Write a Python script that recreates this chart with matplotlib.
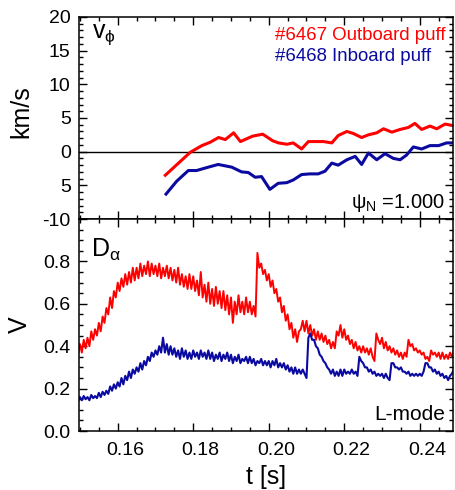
import numpy as np
import matplotlib
matplotlib.use("Agg")
import matplotlib.pyplot as plt
from matplotlib.ticker import MultipleLocator
from matplotlib.transforms import ScaledTranslation

plt.rcParams['font.family'] = ['Liberation Sans', 'DejaVu Sans']
plt.rcParams['mathtext.fontset'] = 'custom'
plt.rcParams['mathtext.rm'] = 'Liberation Sans'
plt.rcParams['mathtext.it'] = 'Liberation Sans'
plt.rcParams['mathtext.sf'] = 'Liberation Sans'
plt.rcParams['mathtext.default'] = 'regular'

RED = '#ff0000'
BLUE = '#0a0aa0'

# Toroidal velocity at psi_N = 1.000 (km/s)
VPHI_T_6467 = [0.1726, 0.1761, 0.1792, 0.1823, 0.1845, 0.1867, 0.1885, 0.1907, 0.1925,
               0.1957, 0.1984, 0.2011, 0.2026, 0.2048, 0.2065, 0.2087, 0.2105, 0.2145,
               0.2167, 0.2184, 0.2207, 0.2224, 0.2246, 0.2264, 0.2286, 0.2304, 0.2326,
               0.2348, 0.2370, 0.2387, 0.2405, 0.2427, 0.2445, 0.2467, 0.2495]
VPHI_6467 = [-3.5, -1.7, -0.1, 0.9, 1.4, 2.1, 1.8, 2.8, 1.5,
             2.3, 2.6, 1.6, 1.3, 1.1, 1.3, 0.4, 1.5, 1.5,
             1.3, 2.4, 3.0, 2.7, 2.1, 2.5, 2.8, 3.4, 2.9,
             3.3, 3.6, 4.2, 3.3, 3.8, 3.4, 4.1, 3.8]

VPHI_T_6468 = [0.1728, 0.1756, 0.1787, 0.1809, 0.1840, 0.1866, 0.1902, 0.1928, 0.1946,
               0.1964, 0.1981, 0.2003, 0.2025, 0.2048, 0.2065, 0.2087, 0.2109, 0.2131,
               0.2149, 0.2167, 0.2184, 0.2207, 0.2229, 0.2246, 0.2264, 0.2286, 0.2308,
               0.2330, 0.2348, 0.2365, 0.2383, 0.2405, 0.2427, 0.2450, 0.2471, 0.2495]
VPHI_6468 = [-6.3, -4.4, -2.8, -2.8, -2.3, -1.9, -2.3, -3.0, -3.1,
             -3.8, -3.7, -5.6, -4.7, -4.6, -4.2, -3.4, -3.3, -3.3,
             -2.9, -1.7, -2.0, -1.2, -0.7, -1.9, -0.2, -1.2, -0.3,
             -1.0, -1.2, -0.5, 0.7, 0.4, 0.9, 0.9, 1.3, 1.3]

# D-alpha signal (V), sampled every 0.5 ms from t = 0.1495 s
DALPHA_T0 = 0.1495
DALPHA_DT = 0.0005
DALPHA_6467 = [
    0.36, 0.41, 0.37, 0.43, 0.39, 0.44, 0.40, 0.47, 0.43, 0.48,
    0.45, 0.51, 0.47, 0.54, 0.51, 0.58, 0.55, 0.63, 0.58, 0.66,
    0.63, 0.70, 0.66, 0.72, 0.68, 0.74, 0.69, 0.75, 0.70, 0.77,
    0.71, 0.77, 0.72, 0.79, 0.73, 0.78, 0.74, 0.80, 0.73, 0.79,
    0.74, 0.78, 0.73, 0.79, 0.72, 0.77, 0.73, 0.78, 0.72, 0.77,
    0.71, 0.76, 0.70, 0.77, 0.69, 0.74, 0.68, 0.73, 0.67, 0.74,
    0.67, 0.73, 0.66, 0.71, 0.64, 0.75, 0.63, 0.69, 0.61, 0.70,
    0.60, 0.67, 0.59, 0.68, 0.60, 0.66, 0.58, 0.66, 0.57, 0.64,
    0.55, 0.63, 0.51, 0.61, 0.55, 0.64, 0.56, 0.61, 0.55, 0.63,
    0.56, 0.61, 0.55, 0.59, 0.54, 0.84, 0.77, 0.79, 0.74, 0.76,
    0.71, 0.74, 0.68, 0.71, 0.65, 0.67, 0.61, 0.63, 0.56, 0.59,
    0.52, 0.55, 0.48, 0.51, 0.44, 0.48, 0.42, 0.47, 0.48, 0.52,
    0.47, 0.52, 0.46, 0.50, 0.45, 0.48, 0.43, 0.47, 0.43, 0.46,
    0.42, 0.45, 0.41, 0.43, 0.39, 0.42, 0.39, 0.47, 0.45, 0.50,
    0.44, 0.48, 0.43, 0.45, 0.41, 0.43, 0.39, 0.42, 0.38, 0.40,
    0.37, 0.40, 0.37, 0.39, 0.36, 0.39, 0.35, 0.33, 0.46, 0.43,
    0.41, 0.44, 0.39, 0.42, 0.38, 0.40, 0.37, 0.39, 0.36, 0.38,
    0.35, 0.37, 0.34, 0.37, 0.35, 0.43, 0.40, 0.41, 0.38, 0.39,
    0.37, 0.38, 0.36, 0.37, 0.34, 0.35, 0.33, 0.38, 0.36, 0.37,
    0.35, 0.37, 0.34, 0.37, 0.34, 0.36, 0.34, 0.37, 0.35, 0.38,
]
DALPHA_6468 = [
    0.14, 0.16, 0.145, 0.165, 0.15, 0.16, 0.145, 0.17, 0.155, 0.165,
    0.155, 0.18, 0.16, 0.185, 0.17, 0.19, 0.175, 0.21, 0.19, 0.22,
    0.20, 0.23, 0.21, 0.25, 0.22, 0.26, 0.24, 0.28, 0.25, 0.29,
    0.27, 0.30, 0.28, 0.32, 0.29, 0.33, 0.31, 0.35, 0.33, 0.37,
    0.35, 0.38, 0.36, 0.40, 0.37, 0.44, 0.37, 0.41, 0.36, 0.40,
    0.36, 0.39, 0.35, 0.38, 0.34, 0.39, 0.35, 0.38, 0.34, 0.37,
    0.34, 0.38, 0.35, 0.37, 0.34, 0.38, 0.35, 0.37, 0.34, 0.38,
    0.34, 0.37, 0.33, 0.36, 0.34, 0.37, 0.33, 0.36, 0.34, 0.37,
    0.33, 0.36, 0.32, 0.35, 0.33, 0.36, 0.32, 0.34, 0.33, 0.35,
    0.32, 0.35, 0.32, 0.34, 0.31, 0.33, 0.32, 0.34, 0.31, 0.33,
    0.31, 0.33, 0.30, 0.33, 0.31, 0.34, 0.30, 0.32, 0.30, 0.32,
    0.29, 0.31, 0.28, 0.30, 0.27, 0.30, 0.27, 0.29, 0.27, 0.29,
    0.27, 0.25, 0.44, 0.46, 0.43, 0.43, 0.40, 0.39, 0.36, 0.35,
    0.33, 0.32, 0.30, 0.29, 0.27, 0.29, 0.26, 0.28, 0.26, 0.29,
    0.26, 0.29, 0.27, 0.28, 0.27, 0.29, 0.27, 0.28, 0.26, 0.35,
    0.33, 0.32, 0.30, 0.30, 0.28, 0.29, 0.27, 0.28, 0.26, 0.27,
    0.26, 0.27, 0.25, 0.27, 0.25, 0.24, 0.32, 0.32, 0.30, 0.30,
    0.29, 0.30, 0.28, 0.28, 0.27, 0.28, 0.26, 0.27, 0.26, 0.27,
    0.26, 0.27, 0.26, 0.28, 0.32, 0.32, 0.30, 0.30, 0.28, 0.29,
    0.27, 0.28, 0.26, 0.27, 0.25, 0.26, 0.24, 0.26, 0.27, 0.29,
]

T_LIM = (0.14975, 0.2488)
T_TICKS = [0.16, 0.18, 0.20, 0.22, 0.24]
VPHI_TICKS = [-10, -5, 0, 5, 10, 15, 20]
VPHI_TICK_LABELS = ['-10', '5', '0', '5', '10', '15', '20']
DALPHA_TICKS = [0.0, 0.2, 0.4, 0.6, 0.8, 1.0]
DALPHA_TICK_LABELS = ['0.0', '0.2', '0.4', '0.6', '0.8', '']


def style_axis(ax):
    ax.tick_params(which='both', direction='in', top=True, right=True,
                   width=1.0, labelsize=14)
    ax.tick_params(axis='x', which='both', pad=8)
    ax.tick_params(axis='y', which='both', pad=6)
    ax.tick_params(which='major', length=5.5)
    ax.tick_params(which='minor', length=2.8)
    for sp in ax.spines.values():
        sp.set_linewidth(1.1)
    ax.set_xlim(*T_LIM)
    ax.set_xticks(T_TICKS)
    ax.xaxis.set_minor_locator(MultipleLocator(0.005))


fig = plt.figure(figsize=(4.55, 4.9), dpi=100)
ax_v = fig.add_axes([79 / 455, 271 / 490, 374 / 455, 202 / 490])
ax_d = fig.add_axes([79 / 455, 59 / 490, 374 / 455, 212 / 490])

# --- toroidal rotation panel ---
style_axis(ax_v)
ax_v.axhline(0, color='black', lw=1.0)
ax_v.plot(VPHI_T_6467, VPHI_6467, color=RED, lw=2.2)
ax_v.plot(VPHI_T_6468, VPHI_6468, color=BLUE, lw=2.2)
ax_v.set_ylim(-10, 20)
ax_v.set_yticks(VPHI_TICKS)
ax_v.set_yticklabels(VPHI_TICK_LABELS)
ax_v.yaxis.set_minor_locator(MultipleLocator(1))
ax_v.set_xticklabels([])
ax_v.set_ylabel('km/s', fontsize=18)
ax_v.yaxis.set_label_coords(-0.122, 0.53)
ax_v.text(0.035, 0.896, r'v$_{\phi}$', transform=ax_v.transAxes, fontsize=18,
          va='baseline', ha='left')
ax_v.text(0.524, 0.886, '#6467 Outboard puff', transform=ax_v.transAxes,
          fontsize=13.4, color=RED, va='baseline', ha='left')
ax_v.text(0.524, 0.782, '#6468 Inboard puff', transform=ax_v.transAxes,
          fontsize=13.4, color=BLUE, va='baseline', ha='left')
ax_v.text(0.979, 0.054, r'$\psi_N$ =1.000', transform=ax_v.transAxes,
          fontsize=14.5, va='baseline', ha='right')

# --- D-alpha panel ---
style_axis(ax_d)
t_da = DALPHA_T0 + DALPHA_DT * np.arange(len(DALPHA_6467))
ax_d.plot(t_da, DALPHA_6467, color=RED, lw=1.4)
ax_d.plot(t_da, DALPHA_6468, color=BLUE, lw=1.5)
ax_d.set_ylim(0, 1.0)
ax_d.set_yticks(DALPHA_TICKS)
ax_d.set_yticklabels(DALPHA_TICK_LABELS)
ax_d.yaxis.set_minor_locator(MultipleLocator(0.05))
ax_d.set_xticklabels(['%.2f' % t for t in T_TICKS])
ax_d.set_ylabel('V', fontsize=18)
ax_d.yaxis.set_label_coords(-0.125, 0.5)
ax_d.set_xlabel('t [s]', fontsize=18, labelpad=4)
ax_d.text(0.032, 0.822, r'D$_{\alpha}$', transform=ax_d.transAxes, fontsize=18,
          va='baseline', ha='left')
ax_d.text(0.979, 0.052, 'L-mode', transform=ax_d.transAxes, fontsize=15,
          va='baseline', ha='right')

# time labels sit a little to the right of their ticks
shift = ScaledTranslation(7.4 / 100, 0, fig.dpi_scale_trans)
for lab in ax_d.get_xticklabels():
    lab.set_transform(lab.get_transform() + shift)

fig.savefig('out.png', dpi=100)
